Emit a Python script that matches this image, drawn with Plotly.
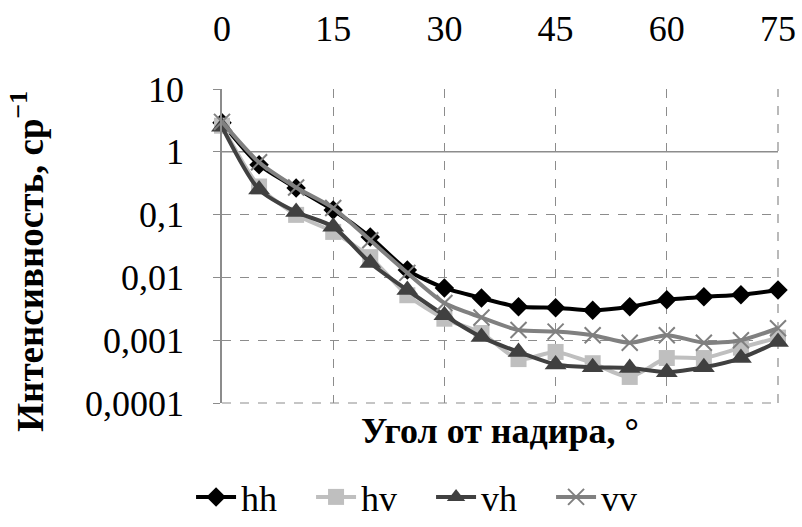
import plotly.graph_objects as go

angles = [0, 5, 10, 15, 20, 25, 30, 35, 40, 45, 50, 55, 60, 65, 70, 75]
hh = [2.9, 0.62, 0.265, 0.118, 0.044, 0.0131, 0.0068, 0.0047, 0.0034, 0.0033, 0.0030, 0.0034, 0.0044, 0.0049, 0.0053, 0.0063]
hv = [2.6, 0.28, 0.099, 0.053, 0.021, 0.0052, 0.0022, 0.0013, 0.0005, 0.00065, 0.00043, 0.00026, 0.00052, 0.00052, 0.00076, 0.0011]
vh = [2.5, 0.25, 0.11, 0.064, 0.017, 0.0063, 0.0025, 0.00112, 0.00065, 0.00041, 0.00037, 0.00036, 0.00031, 0.00037, 0.00052, 0.00094]
vv = [3.0, 0.68, 0.27, 0.127, 0.039, 0.0118, 0.0039, 0.0023, 0.00145, 0.00137, 0.0012, 0.00091, 0.0012, 0.00091, 0.001, 0.00155]

x_ticks = [0, 15, 30, 45, 60, 75]
y_ticks = [0.0001, 0.001, 0.01, 0.1, 1, 10]
y_ticktext = ["0,0001", "0,001", "0,01", "0,1", "1", "10"]

FONT = "Times New Roman, Liberation Serif, serif"
GRID = "#8c8c8c"

series = [
    ("hh", hh, "#000000", dict(symbol="diamond", size=15, color="#000000")),
    ("hv", hv, "#BFBFBF", dict(symbol="square", size=16, color="#BFBFBF")),
    ("vh", vh, "#404040", dict(symbol="triangle-up", size=19, color="#404040")),
    ("vv", vv, "#808080", dict(symbol="x-thin-open", size=16, color="#808080",
                               line=dict(width=2, color="#808080"))),
]

fig = go.Figure()
for name, vals, col, mk in series:
    fig.add_trace(go.Scatter(
        x=angles, y=vals, name=name, mode="lines+markers",
        line=dict(color=col, width=4, shape="spline", smoothing=0.7),
        marker=mk, cliponaxis=False,
    ))

fig.update_layout(
    width=802, height=527,
    margin=dict(l=222, r=24, t=89, b=124),
    paper_bgcolor="white", plot_bgcolor="white",
    font=dict(family=FONT, size=36, color="black"),
    showlegend=True,
    legend=dict(orientation="h", x=0.376, xanchor="center",
                yref="container", y=0.0, yanchor="bottom",
                font=dict(family=FONT, size=36, color="black"),
                itemwidth=40, entrywidth=65, entrywidthmode="pixels",
                tracegroupgap=0, bgcolor="rgba(0,0,0,0)"),
    xaxis=dict(
        range=[0, 75], tickvals=x_ticks, side="top", automargin=False,
        showgrid=True, gridcolor=GRID, griddash="dash", gridwidth=1.2,
        showline=False, zeroline=False, ticks="",
        ticklabelstandoff=40,
        tickfont=dict(family=FONT, size=36, color="black"),
    ),
    yaxis=dict(
        type="log", range=[-4, 1], tickvals=y_ticks, ticktext=y_ticktext,
        automargin=False,
        showgrid=True, gridcolor=GRID, griddash="dash", gridwidth=1.2,
        showline=True, linecolor=GRID, linewidth=1.5,
        ticks="outside", ticklen=7, tickcolor=GRID, tickwidth=1.2,
        ticklabelstandoff=22,
        tickfont=dict(family=FONT, size=36, color="black"),
    ),
    shapes=[
        dict(type="line", xref="x domain", x0=0, x1=1, yref="y", y0=1, y1=1,
             line=dict(color=GRID, width=1.5), layer="below"),
        dict(type="line", xref="x domain", x0=1, x1=1, yref="y domain", y0=0, y1=1,
             line=dict(color=GRID, width=1.2, dash="dash"), layer="below"),
        dict(type="line", xref="x domain", x0=0, x1=1, yref="y domain", y0=0, y1=0,
             line=dict(color=GRID, width=1.2, dash="dash"), layer="below"),
    ],
    annotations=[
        dict(text="<b>Угол от надира, °</b>", xref="paper", yref="paper",
             x=0.5, y=0, xanchor="center", yanchor="top", yshift=-6,
             showarrow=False, font=dict(family=FONT, size=36, color="black")),
        dict(text="<b>Интенсивность, ср<sup>−1</sup></b>", xref="paper", yref="paper",
             x=0, y=0.45, xanchor="center", yanchor="middle", xshift=-194,
             textangle=-90, showarrow=False,
             font=dict(family=FONT, size=37, color="black")),
    ],
)

fig.write_html("out.html")
